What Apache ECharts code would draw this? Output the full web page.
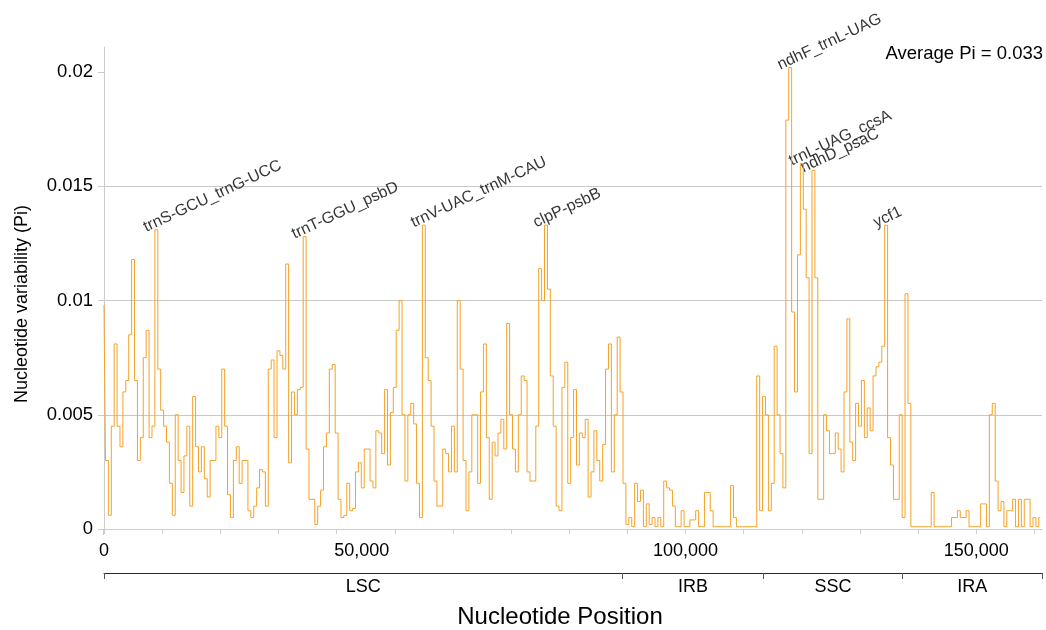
<!DOCTYPE html>
<html><head><meta charset="utf-8">
<script src="https://cdn.jsdelivr.net/npm/echarts@6/dist/echarts.min.js"></script>
<style>html,body{margin:0;padding:0;background:#fff}#c{width:1046px;height:630px}</style>
</head><body><div id="c"></div>
<script>
// sliding-window step (bp) and Pi values (one value per window, from 0 bp)
const windowStep = 500;
const piValues = [
  0.0098,0.0030,0.0006,0.0045,0.0081,0.0045,0.0036,0.0060,0.0065,0.0085, // 0-4.5 kb
  0.0118,0.0065,0.0030,0.0040,0.0075,0.0087,0.0040,0.0045,0.0131,0.0070, // 5-9.5
  0.0052,0.0045,0.0038,0.0020,0.0006,0.0050,0.0030,0.0016,0.0032,0.0045, // 10
  0.0010,0.0058,0.0036,0.0025,0.0036,0.0022,0.0014,0.0030,0.0030,0.0045, // 15
  0.0040,0.0070,0.0045,0.0015,0.0005,0.0030,0.0036,0.0020,0.0030,0.0030, // 20
  0.0008,0.0005,0.0010,0.0018,0.0026,0.0025,0.0010,0.0070,0.0074,0.0040, // 25
  0.0078,0.0076,0.0070,0.0116,0.0029,0.0060,0.0050,0.0061,0.0062,0.0128, // 30
  0.0035,0.0013,0.0013,0.0002,0.0010,0.0017,0.0036,0.0042,0.0070,0.0072, // 35
  0.0042,0.0013,0.0005,0.0006,0.0020,0.0008,0.0009,0.0025,0.0029,0.0018, // 40
  0.0035,0.0035,0.0021,0.0018,0.0043,0.0042,0.0033,0.0061,0.0028,0.0051, // 45
  0.0062,0.0087,0.0100,0.0050,0.0021,0.0050,0.0055,0.0046,0.0020,0.0005, // 50
  0.0133,0.0075,0.0065,0.0045,0.0021,0.0010,0.0010,0.0035,0.0033,0.0025, // 55
  0.0045,0.0025,0.0100,0.0070,0.0030,0.0008,0.0025,0.0050,0.0050,0.0020, // 60
  0.0060,0.0081,0.0040,0.0013,0.0038,0.0032,0.0042,0.0048,0.0035,0.0090, // 65
  0.0050,0.0035,0.0025,0.0050,0.0067,0.0065,0.0025,0.0021,0.0021,0.0045, // 70
  0.0114,0.0100,0.0133,0.0105,0.0067,0.0045,0.0010,0.0008,0.0062,0.0073, // 75
  0.0020,0.0040,0.0061,0.0028,0.0042,0.0040,0.0048,0.0014,0.0025,0.0043, // 80
  0.0030,0.0021,0.0037,0.0070,0.0081,0.0025,0.0050,0.0084,0.0060,0.0020, // 85
  0.0002,0.0005,0.0001,0.0020,0.0012,0.0017,0.0001,0.0011,0.0002,0.0005, // 90
  0.0001,0.0005,0.0001,0.0021,0.0018,0.0017,0.0010,0.0001,0.0001,0.0008, // 95
  0.0001,0.0001,0.0004,0.0004,0.0008,0.0001,0.0001,0.0016,0.0016,0.0008, // 100
  0.0001,0.0001,0.0001,0.0001,0.0001,0.0001,0.0019,0.0005,0.0001,0.0001, // 105
  0.0001,0.0001,0.0001,0.0001,0.0001,0.0067,0.0008,0.0058,0.0050,0.0008, // 110
  0.0020,0.0080,0.0050,0.0033,0.0018,0.0179,0.0202,0.0095,0.0060,0.0120, // 115
  0.0160,0.0140,0.0110,0.0033,0.0157,0.0110,0.0013,0.0013,0.0050,0.0043, // 120
  0.0033,0.0033,0.0042,0.0035,0.0025,0.0060,0.0092,0.0038,0.0030,0.0055, // 125
  0.0045,0.0065,0.0040,0.0053,0.0043,0.0067,0.0071,0.0073,0.0080,0.0133, // 130
  0.0040,0.0028,0.0013,0.0013,0.0050,0.0005,0.0103,0.0055,0.0001,0.0001, // 135
  0.0001,0.0001,0.0001,0.0001,0.0001,0.0016,0.0001,0.0001,0.0001,0.0001, // 140
  0.0001,0.0001,0.0005,0.0005,0.0008,0.0005,0.0005,0.0008,0.0001,0.0001, // 145
  0.0001,0.0001,0.0011,0.0011,0.0001,0.0050,0.0055,0.0021,0.0008,0.0012, // 150
  0.0001,0.0008,0.0008,0.0013,0.0001,0.0013,0.0001,0.0013,0.0013,0.0001, // 155
  0.0005,0.0001,0.0005                                                   // 160-161
];
const genomeLength = 161300;
const xTickValues = [0,10000,20000,30000,40000,50000,60000,70000,80000,90000,100000,110000,120000,130000,140000,150000,160000];
const xLabelValues = [0, 50000, 100000, 150000];
const xLabelTexts = ['0', '50,000', '100,000', '150,000'];
const yTickValues = [0, 0.005, 0.01, 0.015, 0.02];
const yTickLabels = ['0', '0.005', '0.01', '0.015', '0.02'];
const regionNames = ['LSC', 'IRB', 'SSC', 'IRA'];
const regionBounds = [0, 89200, 113400, 137300, 161300];
const peakNames = ['trnS-GCU_trnG-UCC','trnT-GGU_psbD','trnV-UAC_trnM-CAU','clpP-psbB','ndhF_trnL-UAG','trnL-UAG_ccsA','ndhD_psaC','ycf1'];
const peakPositions = [9000, 34500, 55000, 76000, 118000, 120000, 122000, 134500];
const peakPi = [0.0131, 0.0128, 0.0133, 0.0133, 0.0202, 0.0160, 0.0157, 0.0133];
const averagePiText = 'Average Pi = 0.033';

const FONT = 'Liberation Sans, Arial, sans-serif';
const lineData = piValues.map((v, i) => [i * windowStep, v]);
const regionCenters = regionNames.map((_, i) => (regionBounds[i] + regionBounds[i + 1]) / 2);
const peakData = peakNames.map((n, i) => ({ name: n, value: [peakPositions[i], peakPi[i]] }));

const chart = echarts.init(document.getElementById('c'), null, { renderer: 'canvas' });
chart.setOption({
  animation: false,
  backgroundColor: '#fff',
  grid: { left: 104, right: 4, top: 47, bottom: 101, containLabel: false },
  xAxis: [{
    type: 'value', min: 0, max: genomeLength, offset: 6,
    axisLine: { show: true, lineStyle: { color: '#cccccc', width: 1 } },
    axisTick: { show: true, length: 5, customValues: xTickValues, lineStyle: { color: '#cccccc' } },
    axisLabel: {
      customValues: xLabelValues, margin: 7, color: '#000', fontSize: 18, fontFamily: FONT,
      formatter: v => { const t = xLabelTexts[xLabelValues.indexOf(v)] || ''; return v === 50000 ? '{s|' + t + '}' : t; },
      rich: { s: { padding: [0, 66, 0, 0], fontSize: 18, fontFamily: FONT, color: '#000' } }
    },
    splitLine: { show: false }
  }, {
    type: 'value', min: 0, max: genomeLength, position: 'bottom', offset: 44,
    axisLine: { show: true, lineStyle: { color: '#332828', width: 1 } },
    axisTick: { show: true, length: 6, customValues: regionBounds, lineStyle: { color: '#555' } },
    axisLabel: {
      customValues: regionCenters, margin: 5, color: '#000', fontSize: 18, fontFamily: FONT,
      formatter: v => regionNames[regionCenters.indexOf(v)] || ''
    },
    splitLine: { show: false }
  }],
  yAxis: {
    type: 'value', min: 0, max: 0.0211, interval: 0.005,
    axisLine: { show: true, lineStyle: { color: '#cccccc' } },
    axisTick: { show: true, length: 6, customValues: yTickValues, lineStyle: { color: '#cccccc' } },
    axisLabel: {
      customValues: yTickValues, margin: 11, color: '#000', fontSize: 18.5, fontFamily: FONT,
      formatter: v => yTickLabels[yTickValues.indexOf(v)] ?? ''
    },
    splitLine: { show: true, showMinLine: false, showMaxLine: false, lineStyle: { color: '#c8c8c8', width: 1 } }
  },
  series: [{
    type: 'line', data: lineData, step: 'middle', showSymbol: false, silent: true,
    lineStyle: { color: '#f5a226', width: 1 }, itemStyle: { color: '#f5a226' }
  }, {
    type: 'scatter', data: peakData, symbolSize: 1, silent: true,
    itemStyle: { color: 'rgba(0,0,0,0)' },
    label: {
      show: true, formatter: '{b}', position: [-8, 6], align: 'left', verticalAlign: 'bottom',
      rotate: 25, color: '#000', fontSize: 16, fontFamily: FONT
    }
  }],
  graphic: [
    { type: 'text', x: 1043, y: 54, style: { text: averagePiText, textAlign: 'right', textVerticalAlign: 'middle', font: '18.5px ' + FONT, fill: '#000' } },
    { type: 'text', x: 22, y: 304, rotation: Math.PI / 2, style: { text: 'Nucleotide variability (Pi)', textAlign: 'center', textVerticalAlign: 'middle', font: '18px ' + FONT, fill: '#000' } },
    { type: 'text', x: 560, y: 617, style: { text: 'Nucleotide Position', textAlign: 'center', textVerticalAlign: 'middle', font: '24px ' + FONT, fill: '#000' } },
    { type: 'line', shape: { x1: 103.5, y1: 529, x2: 103.5, y2: 535 }, style: { stroke: '#cccccc', lineWidth: 1 } }
  ]
});
</script></body></html>
